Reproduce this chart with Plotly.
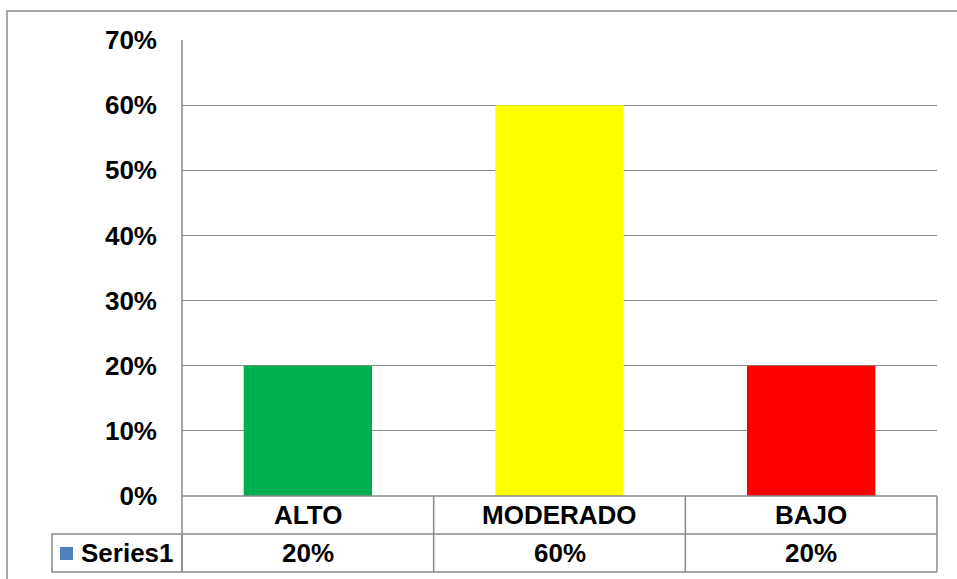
import plotly.graph_objects as go

categories = ["ALTO", "MODERADO", "BAJO"]
values = [0.20, 0.60, 0.20]
bar_colors = ["#00B050", "#FFFF00", "#FF0000"]
series_name = "Series1"
y_ticks = [0, 0.1, 0.2, 0.3, 0.4, 0.5, 0.6, 0.7]

W, H = 957, 579
L, R, T, B = 182, 937, 40, 496  # plot area in pixels
GRID = "#8a8a8a"
FONT = dict(family="Liberation Sans, Arial, sans-serif", size=26, color="black", weight="bold")


def px(x):
    return (x - L) / (R - L)


def py(y):
    return (B - y) / (B - T)


fig = go.Figure(go.Bar(
    x=categories, y=values,
    marker=dict(color=bar_colors, line=dict(width=0)),
    width=0.51, showlegend=False, hoverinfo="skip",
))

shapes = []
# outer chart border (only left and top visible)
shapes.append(dict(type="rect", xref="paper", yref="paper",
                   x0=px(7), x1=px(962), y0=py(11), y1=py(590),
                   line=dict(color=GRID, width=1.5)))
# data table horizontal lines
for yy in (496, 534, 572):
    shapes.append(dict(type="line", xref="paper", yref="paper",
                       x0=0, x1=1, y0=py(yy), y1=py(yy),
                       line=dict(color=GRID, width=1.5)))
# data table vertical lines
n = len(categories)
for i in range(n + 1):
    xx = i / n
    y_top = 1 if i == 0 else py(496)
    shapes.append(dict(type="line", xref="paper", yref="paper",
                       x0=xx, x1=xx, y0=py(572), y1=y_top,
                       line=dict(color=GRID, width=1.5)))
# legend key cell
shapes.append(dict(type="rect", xref="paper", yref="paper",
                   x0=px(52), x1=0, y0=py(534), y1=py(572),
                   line=dict(color=GRID, width=1.5)))
shapes.append(dict(type="rect", xref="paper", yref="paper",
                   x0=px(60), x1=px(73), y0=py(547), y1=py(560),
                   fillcolor="#4F81BD", line=dict(width=0)))

annotations = []
for c, v in zip(categories, values):
    annotations.append(dict(x=c, xref="x", y=py(515), yref="paper", text=c,
                            showarrow=False, font=FONT, xanchor="center", yanchor="middle"))
    annotations.append(dict(x=c, xref="x", y=py(553), yref="paper", text=f"{v:.0%}",
                            showarrow=False, font=FONT, xanchor="center", yanchor="middle"))
annotations.append(dict(x=px(79), xref="paper", y=py(553), yref="paper", text=series_name,
                        showarrow=False, font=FONT, xanchor="left", yanchor="middle"))

fig.update_layout(
    width=W, height=H,
    margin=dict(l=L, r=W - R, t=T, b=H - B),
    paper_bgcolor="white", plot_bgcolor="white",
    shapes=shapes, annotations=annotations,
    xaxis=dict(showticklabels=False, showgrid=False, zeroline=False, ticks="",
               range=[-0.5, 2.5], fixedrange=True),
    yaxis=dict(range=[0, 0.7], tickvals=y_ticks, tickformat=".0%",
               showgrid=True, gridcolor=GRID, gridwidth=1,
               zeroline=False, showline=False,
               tickfont=FONT, ticks="", ticklabelstandoff=24, fixedrange=True),
)

fig.write_html("out.html", config=dict(displayModeBar=False),
               post_script="document.body.style.margin='0';")
